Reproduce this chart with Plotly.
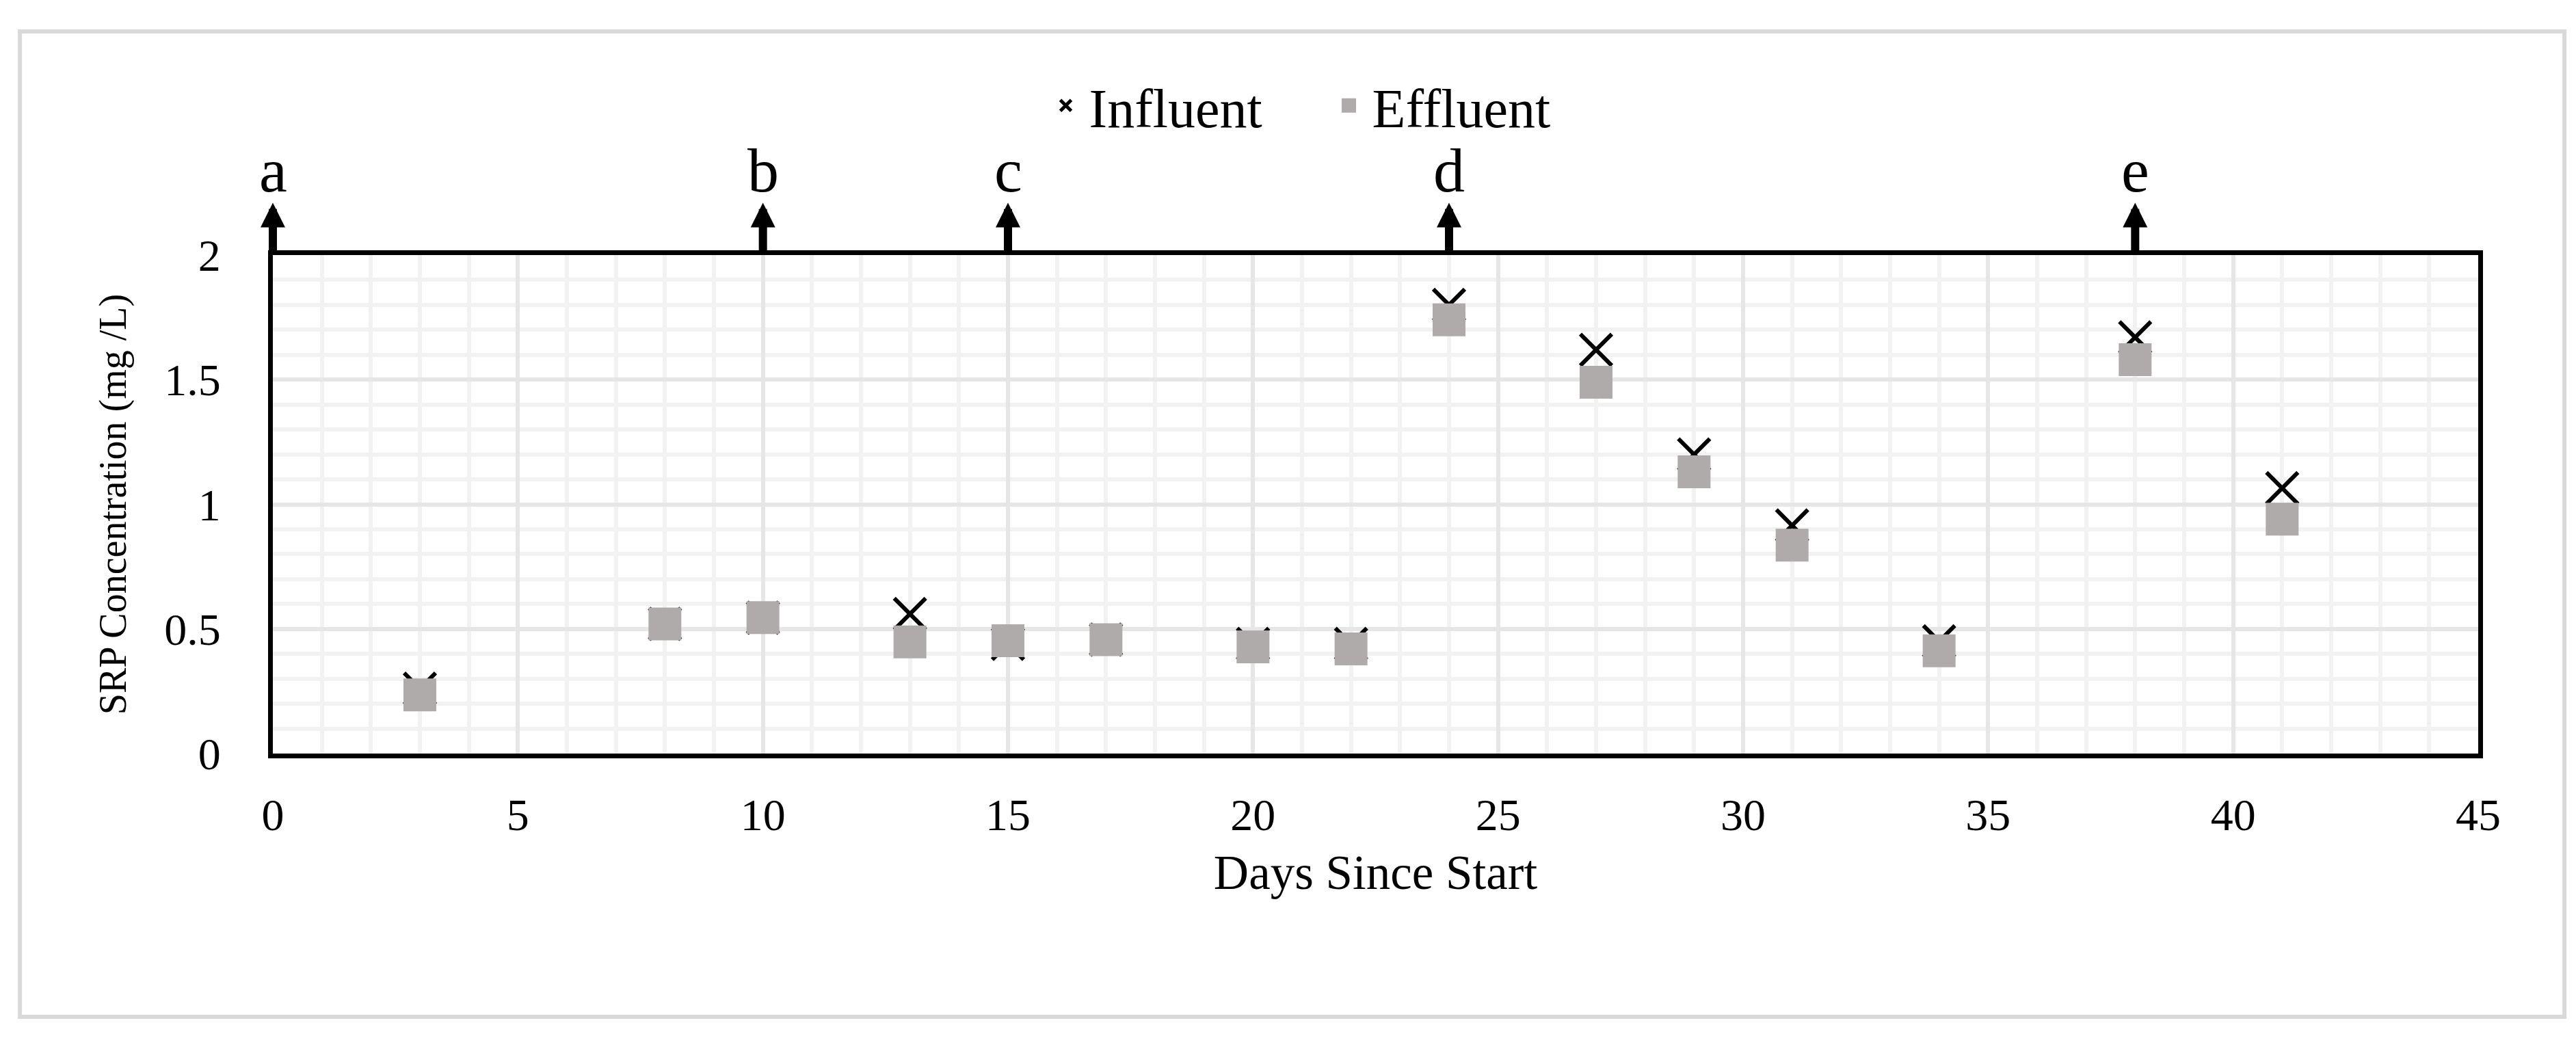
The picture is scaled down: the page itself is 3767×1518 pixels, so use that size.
import plotly.graph_objects as go

# ---- data ----
days = [3, 8, 10, 13, 15, 17, 20, 22, 24, 27, 29, 31, 34, 38, 41]
influent = [0.26, 0.52, 0.545, 0.56, 0.44, 0.457, 0.44, 0.44, 1.80, 1.62, 1.20, 0.915, 0.45, 1.67, 1.065]
effluent = [0.235, 0.52, 0.545, 0.448, 0.453, 0.457, 0.428, 0.42, 1.74, 1.49, 1.13, 0.836, 0.412, 1.58, 0.94]

event_days = [0, 10, 15, 24, 38]
event_labels = ["a", "b", "c", "d", "e"]

x_ticks = [0, 5, 10, 15, 20, 25, 30, 35, 40, 45]
y_ticks = [0, 0.5, 1, 1.5, 2]
y_ticktext = ["0", "0.5", "1", "1.5", "2"]

FONT = "Liberation Serif"
EFF_COLOR = "#AFABAB"

fig = go.Figure()
fig.add_trace(go.Scatter(
    x=days, y=influent, mode="markers", name="Influent",
    marker=dict(symbol="x-thin", size=46, color="black",
                line=dict(color="black", width=6)),
))
fig.add_trace(go.Scatter(
    x=days, y=effluent, mode="markers", name="Effluent",
    marker=dict(symbol="square", size=43, color=EFF_COLOR,
                line=dict(color=EFF_COLOR, width=5)),
))

# event arrows and labels
for d, lab in zip(event_days, event_labels):
    fig.add_annotation(x=d, y=2, xref="x", yref="y", text="",
                       showarrow=True, ax=0, ay=-78, arrowside="start",
                       startarrowhead=2, startarrowsize=0.6, arrowwidth=12,
                       arrowcolor="black")
    fig.add_annotation(x=d, y=2, xref="x", yref="y", text=lab,
                       showarrow=False, yanchor="bottom", yshift=71,
                       font=dict(family=FONT, size=92, color="black"))

# outer light border
fig.add_shape(type="rect", xref="paper", yref="paper",
              x0=-0.1147, x1=1.0391, y0=-0.528, y1=1.4486,
              line=dict(color="#D9D9D9", width=6), layer="below")

fig.update_layout(
    width=3767, height=1518,
    margin=dict(l=391, r=151, t=365, b=424),
    paper_bgcolor="white", plot_bgcolor="white",
    font=dict(family=FONT, color="black", size=66),
    legend=dict(orientation="h", x=0.349, xanchor="left",
                y=1.30, yanchor="middle", entrywidth=341,
                entrywidthmode="pixels", itemwidth=58,
                font=dict(family=FONT, size=80, color="black"),
                bgcolor="rgba(0,0,0,0)"),
    xaxis=dict(range=[0, 45], tickvals=x_ticks, showline=True,
               linecolor="black", linewidth=7, mirror=True, zeroline=False,
               showgrid=True, gridcolor="#E6E6E6", gridwidth=6,
               minor=dict(dtick=1, showgrid=True, gridcolor="#F2F2F2", gridwidth=6),
               ticks="", ticklabelstandoff=26,
               tickfont=dict(family=FONT, size=66),
               title=dict(text="Days Since Start", standoff=26,
                          font=dict(family=FONT, size=71))),
    yaxis=dict(range=[0, 2], tickvals=y_ticks, ticktext=y_ticktext,
               showline=True, linecolor="black", linewidth=7, mirror=True,
               zeroline=False, showgrid=True, gridcolor="#E6E6E6", gridwidth=6,
               minor=dict(dtick=0.1, showgrid=True, gridcolor="#F2F2F2", gridwidth=6),
               ticks="", ticklabelstandoff=56,
               tickfont=dict(family=FONT, size=66),
               title=dict(text="SRP Concentration (mg /L)", standoff=40,
                          font=dict(family=FONT, size=56))),
)

fig.write_html("out.html")
